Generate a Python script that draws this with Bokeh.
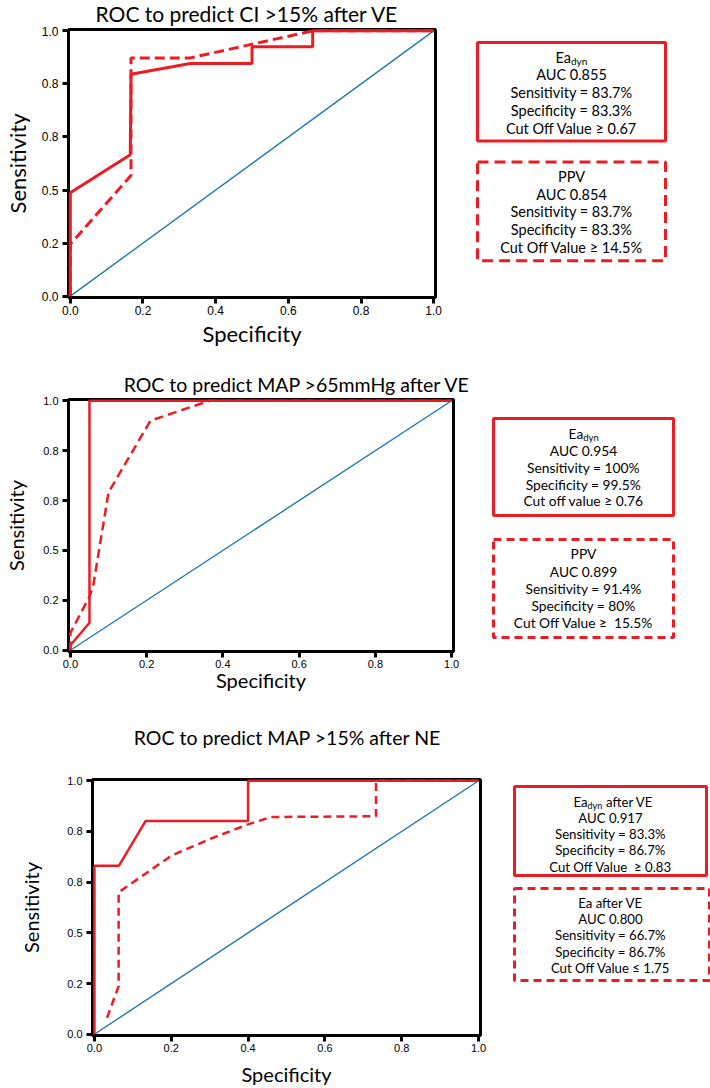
from bokeh.plotting import figure
from bokeh.layouts import column, row
from bokeh.models import Range1d, FixedTicker
from bokeh.core.properties import value
from bokeh.embed import file_html
from bokeh.resources import INLINE

# ---------------- data ----------------
titles = ["ROC to predict CI >15% after VE",
          "ROC to predict MAP >65mmHg after VE",
          "ROC to predict MAP >15% after NE"]
x_label = "Specificity"
y_label = "Sensitivity"
tick_values = [0.0, 0.2, 0.4, 0.6, 0.8, 1.0]
x_tick_labels = ["0.0", "0.2", "0.4", "0.6", "0.8", "1.0"]
y_tick_labels = ["0.0", "0.2", "0.5", "0.8", "0.8", "1.0"]

ref_x = [0, 1]
ref_y = [0, 1]

# panel 1: CI > 15% after VE
ci_ea_x = [0, 0, 0.165, 0.167, 0.33, 0.5, 0.5, 0.667, 0.667, 1.0]
ci_ea_y = [0, 0.39, 0.533, 0.836, 0.877, 0.877, 0.94, 0.94, 1.0, 1.0]
ci_ppv_x = [0, 0, 0.167, 0.167, 0.33, 0.667, 1.0]
ci_ppv_y = [0, 0.196, 0.455, 0.898, 0.898, 1.0, 1.0]

# panel 2: MAP > 65 mmHg after VE
map_ea_x = [0, 0, 0.05, 0.05, 1.0]
map_ea_y = [0, 0.02, 0.11, 1.0, 1.0]
map_ppv_x = [0, 0, 0.05, 0.06, 0.1, 0.21, 0.365, 1.0]
map_ppv_y = [0, 0.07, 0.215, 0.26, 0.633, 0.92, 1.0, 1.0]

# panel 3: MAP > 15% after NE
ne_ea_x = [0, 0, 0.064, 0.133, 0.4, 0.4, 1.0]
ne_ea_y = [0, 0.665, 0.665, 0.841, 0.841, 1.0, 1.0]
ne_eaa_x = [0.033, 0.063, 0.063, 0.2, 0.3, 0.4, 0.46, 0.733, 0.733, 1.0]
ne_eaa_y = [0.065, 0.19, 0.56, 0.704, 0.77, 0.828, 0.857, 0.86, 1.0, 1.0]

box1_solid = ["AUC 0.855", "Sensitivity = 83.7%", "Specificity = 83.3%", "Cut Off Value \u2265 0.67"]
box1_dash = ["PPV", "AUC 0.854", "Sensitivity = 83.7%", "Specificity = 83.3%", "Cut Off Value \u2265 14.5%"]
box2_solid = ["AUC 0.954", "Sensitivity = 100%", "Specificity = 99.5%", "Cut off value \u2265 0.76"]
box2_dash = ["PPV", "AUC 0.899", "Sensitivity = 91.4%", "Specificity = 80%", "Cut Off Value \u2265\u00a0 15.5%"]
box3_solid = ["AUC 0.917", "Sensitivity = 83.3%", "Specificity = 86.7%", "Cut Off Value\u00a0 \u2265 0.83"]
box3_dash = ["Ea after VE", "AUC 0.800", "Sensitivity = 66.7%", "Specificity = 86.7%", "Cut Off Value \u2264 1.75"]

RED = "#ec1c24"
BLUE = "#1f77b4"
FONT = "Lato"
BOXFONT = "Lato"
TICKFONT = "Liberation Sans"
PAD = 0.005
PAGE_W = 710


def title_strip(text, y0, y1, cx, cy, size):
    # a strip spanning the page width; coordinates are page pixels (y down)
    t = figure(width=PAGE_W, height=y1 - y0, output_backend="svg", toolbar_location=None,
               title=None, x_range=Range1d(0, PAGE_W), y_range=Range1d(y1, y0),
               x_axis_location=None, y_axis_location=None, min_border=0,
               outline_line_color=None)
    t.grid.visible = False
    t.text(x=[cx], y=[cy], text=[text], text_font=value(FONT), text_font_size=size,
           text_align="center", text_baseline="middle", text_color="black")
    return t


def roc_plot(w, h, left, right, top, bottom, label_size, tick_size,
             ylab_standoff, xlab_standoff, red_w, curves):
    p = figure(width=w, height=h, output_backend="svg", toolbar_location=None, title=None,
               x_range=Range1d(-PAD, 1 + PAD), y_range=Range1d(-PAD, 1 + PAD),
               min_border_left=left, min_border_right=right,
               min_border_top=top, min_border_bottom=bottom)
    p.grid.visible = False
    p.outline_line_color = "black"
    p.outline_line_width = 3
    p.outline_line_alpha = 1
    p.xaxis.axis_label = x_label
    p.yaxis.axis_label = y_label
    p.xaxis.ticker = FixedTicker(ticks=tick_values)
    p.yaxis.ticker = FixedTicker(ticks=tick_values)
    p.xaxis.major_label_overrides = {v: s for v, s in zip(tick_values, x_tick_labels)}
    p.yaxis.major_label_overrides = {v: s for v, s in zip(tick_values, y_tick_labels)}
    for ax in (p.xaxis[0], p.yaxis[0]):
        ax.axis_line_width = 3
        ax.axis_line_color = "black"
        ax.major_tick_line_width = 3
        ax.major_tick_out = 6
        ax.major_tick_in = 0
        ax.minor_tick_line_color = None
        ax.major_label_text_font = TICKFONT
        ax.major_label_text_font_size = tick_size
        ax.major_label_text_color = "black"
        ax.axis_label_text_font = FONT
        ax.axis_label_text_font_size = label_size
        ax.axis_label_text_font_style = "normal"
        ax.axis_label_text_color = "black"
    p.xaxis.major_label_standoff = 2
    p.yaxis.major_label_standoff = 4
    p.yaxis.axis_label_standoff = ylab_standoff
    p.xaxis.axis_label_standoff = xlab_standoff
    p.line(ref_x, ref_y, line_color=BLUE, line_width=1.4)
    for xs, ys, dash in curves:
        r = p.line(xs, ys, line_color=RED, line_width=red_w, line_dash=dash)
        r.level = "overlay"
    return p


def text_panel(w, h, x0, frame_top, frame_bottom, top, bottom):
    # coordinates in this panel are page pixels (x right, y down)
    a = figure(width=w, height=h, output_backend="svg", toolbar_location=None,
               title=None,
               x_range=Range1d(x0, x0 + w), y_range=Range1d(frame_bottom, frame_top),
               x_axis_location=None, y_axis_location=None,
               min_border_left=0, min_border_right=0,
               min_border_top=top, min_border_bottom=bottom,
               outline_line_color=None)
    a.grid.visible = False
    return a


def add_box(a, l, r, t, b, dash, lw):
    a.quad(left=[l], right=[r], top=[t], bottom=[b], fill_color=None,
           line_color=RED, line_width=lw, line_dash=dash)


def add_lines(a, cx, ys, lines, size):
    a.text(x=[cx] * len(lines), y=ys, text=lines, text_font=value(BOXFONT),
           text_font_size=size, text_align="center", text_baseline="middle",
           text_color="black")


def add_eadyn(a, x_left, y, size, sub_size, sub_dx, suffix=None, suffix_dx=0):
    a.text(x=[x_left], y=[y], text=["Ea"], text_font=value(BOXFONT), text_font_size=size,
           text_align="left", text_baseline="middle", text_color="black")
    a.text(x=[x_left + sub_dx], y=[y + 4], text=["dyn"], text_font=value(BOXFONT),
           text_font_size=sub_size, text_align="left", text_baseline="middle", text_color="black")
    if suffix:
        a.text(x=[x_left + sub_dx + suffix_dx], y=[y], text=[suffix], text_font=value(BOXFONT),
               text_font_size=size, text_align="left", text_baseline="middle", text_color="black")


# -------- panel 1 --------
t1 = title_strip(titles[0], 0, 26, 246.5, 12.8, "21px")
Y1, H1 = 26, 323
F1T, F1B = 29, 298
p1 = roc_plot(460, H1, 67, 25, F1T - Y1, Y1 + H1 - F1B, "22px", "12px", 8, 2, 3,
              [(ci_ea_x, ci_ea_y, "solid"), (ci_ppv_x, ci_ppv_y, "10 5")])
a1 = text_panel(250, H1, 460, F1T, F1B, F1T - Y1, Y1 + H1 - F1B)
add_box(a1, 477, 665, 42, 141, "solid", 3)
add_eadyn(a1, 555, 57, "14.5px", "10px", 15.5)
add_lines(a1, 571, [74, 92, 110, 128], box1_solid, "14.5px")
add_box(a1, 477, 665, 162, 261, "11 6", 3)
add_lines(a1, 571, [177, 195, 212, 230, 248], box1_dash, "14.5px")

# -------- panel 2 --------
t2 = title_strip(titles[1], 349, 396, 296.5, 384, "19.5px")
Y2, H2 = 396, 305
F2T, F2B = 399, 651
p2 = roc_plot(480, H2, 68, 27, F2T - Y2, Y2 + H2 - F2B, "20px", "11px", 12, -3, 2.5,
              [(map_ea_x, map_ea_y, "solid"), (map_ppv_x, map_ppv_y, "9 5")])
a2 = text_panel(230, H2, 480, F2T, F2B, F2T - Y2, Y2 + H2 - F2B)
add_box(a2, 493, 673, 418, 515, "solid", 3)
add_eadyn(a2, 568, 433, "13.8px", "9.5px", 14.8)
add_lines(a2, 583, [450, 467, 484, 500], box2_solid, "13.8px")
add_box(a2, 493, 673, 539, 637, "8 5", 3)
add_lines(a2, 583, [553, 571, 588, 605, 622], box2_dash, "13.8px")

# -------- panel 3 --------
t3 = title_strip(titles[2], 701, 772, 287, 737, "19.5px")
Y3, H3 = 772, 316
F3T, F3B = 779, 1035
p3 = roc_plot(490, H3, 92, 10, F3T - Y3, Y3 + H3 - F3B, "20px", "11px", 21, 7, 2.5,
              [(ne_ea_x, ne_ea_y, "solid"), (ne_eaa_x, ne_eaa_y, "8 5")])
a3 = text_panel(220, H3, 490, F3T, F3B, F3T - Y3, Y3 + H3 - F3B)
add_box(a3, 514, 706, 786, 875, "solid", 3)
add_eadyn(a3, 573, 801, "13.2px", "9px", 14, "after VE", 18.5)
add_lines(a3, 610, [817, 833, 849, 866], box3_solid, "13.2px")
add_box(a3, 514, 709, 888, 980, "8 5", 3)
add_lines(a3, 610, [902, 918, 934, 951, 967], box3_dash, "13.2px")

layout = column(t1, row(p1, a1), t2, row(p2, a2), t3, row(p3, a3))
open("out.html", "w").write(file_html(layout, INLINE))
